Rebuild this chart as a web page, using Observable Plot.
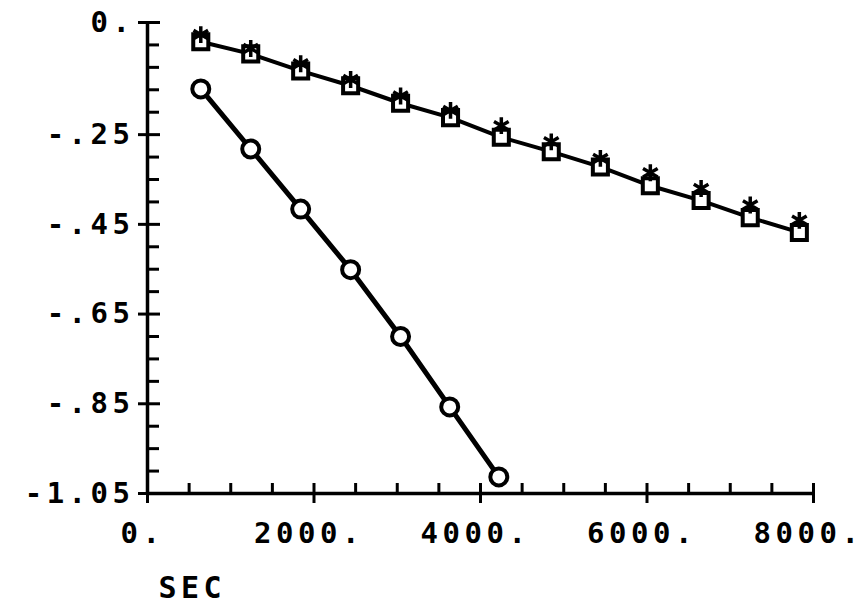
<!DOCTYPE html>
<html>
<head>
<meta charset="utf-8">
<script src="https://cdn.jsdelivr.net/npm/d3@7"></script>
<script src="https://cdn.jsdelivr.net/npm/@observablehq/plot@0.6"></script>
<style>
  html, body { margin: 0; padding: 0; background: #fff; }
  #chart svg { display: block; }
</style>
</head>
<body>
<div id="chart"></div>
<script>
// ---- data ----
const circleTime = [640, 1240, 1840, 2440, 3040, 3630, 4220];
const circleValue = [-0.148, -0.282, -0.416, -0.551, -0.700, -0.857, -1.013];

const squareTime = [640, 1240, 1840, 2440, 3040, 3640, 4250, 4850, 5440, 6040, 6650, 7240, 7830];
const squareValue = [-0.043, -0.070, -0.108, -0.141, -0.180, -0.212, -0.256, -0.288, -0.322, -0.364, -0.397, -0.435, -0.468];
const asteriskValue = [-0.027, -0.058, -0.092, -0.127, -0.164, -0.196, -0.230, -0.266, -0.303, -0.335, -0.370, -0.407, -0.441];

const yMajor = [0, -0.25, -0.45, -0.65, -0.85, -1.05];
const yLabels = ["0.", "-.25", "-.45", "-.65", "-.85", "-1.05"];
const yMinor = [-0.05, -0.10, -0.15, -0.20, -0.30, -0.35, -0.40, -0.50, -0.55, -0.60,
                -0.70, -0.75, -0.80, -0.90, -0.95, -1.00];
const xMajor = [0, 2000, 4000, 6000, 8000];
const xLabels = ["0.", "2000.", "4000.", "6000.", "8000."];
const xMinor = [500, 1000, 1500, 2500, 3000, 3500, 4500, 5000, 5500, 6500, 7000, 7500];
const xTitle = "SEC";

// ---- tables ----
const circles = circleTime.map((t, i) => ({t, v: circleValue[i]}));
const squares = squareTime.map((t, i) => ({t, v: squareValue[i]}));
const asterisks = squareTime.map((t, i) => ({t, v: asteriskValue[i]}));
const yLabelMap = new Map(yMajor.map((d, i) => [d, yLabels[i]]));
const xLabelMap = new Map(xMajor.map((d, i) => [d, xLabels[i]]));

const font = "DejaVu Sans Mono";
const fs = 29;

const chart = Plot.plot({
  width: 866,
  height: 613,
  marginLeft: 147,
  marginRight: 53,
  marginTop: 22,
  marginBottom: 120,
  style: {background: "#fff", color: "#000", fontFamily: font, letterSpacing: "4.5px"},
  x: {domain: [0, 8000], axis: null},
  y: {domain: [-1.05, 0], axis: null},
  marks: [
    // axis lines
    Plot.ruleX([0], {stroke: "#000", strokeWidth: 3.5}),
    Plot.ruleY([-1.05], {stroke: "#000", strokeWidth: 3.5}),
    // y axis: crossing major ticks, inward minor ticks, labels
    Plot.axisY(yMajor, {anchor: "left", tickSize: 22, dx: 13, strokeWidth: 3, fill: "none", label: null}),
    Plot.axisY(yMinor, {anchor: "left", tickSize: 12, dx: 12, strokeWidth: 3, fill: "none", label: null}),
    Plot.axisY(yMajor, {anchor: "left", tickSize: 9, tickPadding: 4, stroke: "none",
      tickFormat: d => yLabelMap.get(d), fontSize: fs, fontWeight: "bold", fontFamily: font, label: null}),
    // x axis: crossing major ticks, inward minor ticks, labels
    Plot.axisX(xMajor, {anchor: "bottom", tickSize: 20, dy: -10, strokeWidth: 3, fill: "none", label: null}),
    Plot.axisX(xMinor, {anchor: "bottom", tickSize: 10, dy: -10, strokeWidth: 3, fill: "none", label: null}),
    Plot.axisX(xMajor, {anchor: "bottom", tickSize: 10, tickPadding: 19, stroke: "none", dx: -5,
      tickFormat: d => xLabelMap.get(d), fontSize: fs, fontWeight: "bold", fontFamily: font, label: null}),
    Plot.text([xTitle], {frameAnchor: "bottom-left", dx: 11, dy: 95, textAnchor: "start", lineAnchor: "middle",
      text: d => d, fontSize: 30, fontWeight: "bold", fontFamily: font, fill: "#000"}),
    // series
    Plot.line(squares, {x: "t", y: "v", stroke: "#000", strokeWidth: 4}),
    Plot.dot(squares, {x: "t", y: "v", symbol: "square", r: 8.5, stroke: "#000", fill: "#fff", strokeWidth: 4}),
    Plot.dot(asterisks, {x: "t", y: "v", symbol: "asterisk", r: 8, stroke: "#000", strokeWidth: 3.5}),
    Plot.line(circles, {x: "t", y: "v", stroke: "#000", strokeWidth: 5}),
    Plot.dot(circles, {x: "t", y: "v", symbol: "circle", r: 8.5, stroke: "#000", fill: "#fff", strokeWidth: 4})
  ]
});
document.getElementById("chart").appendChild(chart);
</script>
</body>
</html>
